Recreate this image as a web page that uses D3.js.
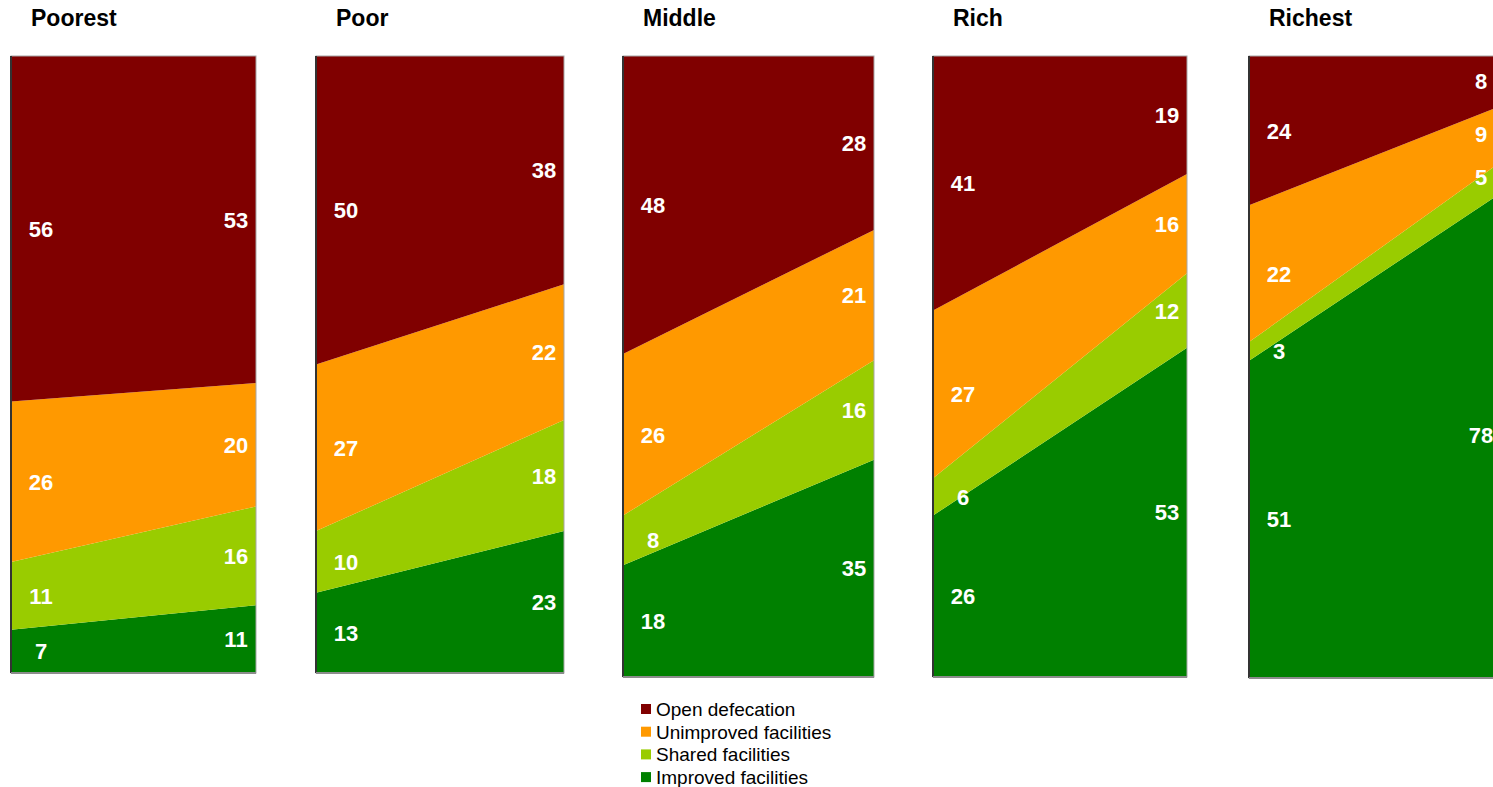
<!DOCTYPE html>
<html>
<head>
<meta charset="utf-8">
<script src="https://cdn.jsdelivr.net/npm/d3@7"></script>
<style>
  body { margin: 0; background: #fff; overflow: hidden; }
  text { font-family: "Liberation Sans", Arial, sans-serif; }
</style>
</head>
<body>
<div id="chart-area"></div>
<script>
// wealth quintiles, two survey points each (start -> end)
var groups = ["Poorest", "Poor", "Middle", "Rich", "Richest"];
var categories = ["Open defecation", "Unimproved facilities", "Shared facilities", "Improved facilities"];
var colors = ["#800000", "#ff9900", "#99cc00", "#008000"];

var openStart = [56, 50, 48, 41, 24];
var openEnd = [53, 38, 28, 19, 8];
var unimprovedStart = [26, 27, 26, 27, 22];
var unimprovedEnd = [20, 22, 21, 16, 9];
var sharedStart = [11, 10, 8, 6, 3];
var sharedEnd = [16, 18, 16, 12, 5];
var improvedStart = [7, 13, 18, 26, 51];
var improvedEnd = [11, 23, 35, 53, 78];

// panel frames
var panelLeft = [11, 316, 623, 933, 1249];
var panelWidth = [245, 248, 251, 254, 252];
var panelBottom = [673, 673, 677, 677, 678];
var panelTop = 56;

var areaWidth = 1493, areaHeight = 787;

var svg = d3.select("#chart-area").append("svg")
    .attr("width", areaWidth)
    .attr("height", areaHeight);

// stacking order: bottom -> top
var stackKeys = ["improved", "shared", "unimproved", "open"];
var keyColor = { open: colors[0], unimproved: colors[1], shared: colors[2], improved: colors[3] };

groups.forEach(function(name, i){
    var rows = [
        { t: 0, open: openStart[i], unimproved: unimprovedStart[i], shared: sharedStart[i], improved: improvedStart[i] },
        { t: 1, open: openEnd[i], unimproved: unimprovedEnd[i], shared: sharedEnd[i], improved: improvedEnd[i] }
    ];
    var series = d3.stack().keys(stackKeys)(rows);

    var left = panelLeft[i], right = left + panelWidth[i];
    var x = d3.scaleLinear().domain([0, 1]).range([left, right]);
    var y = d3.scaleLinear().domain([0, 100]).range([panelBottom[i], panelTop]);

    var g = svg.append("g").attr("class", "panel");

    g.append("clipPath").attr("id", "clip" + i)
      .append("rect")
        .attr("x", left).attr("y", panelTop)
        .attr("width", panelWidth[i]).attr("height", panelBottom[i] - panelTop);

    var area = d3.area()
        .x(function(d){ return x(d.data.t); })
        .y0(function(d){ return y(d[0]); })
        .y1(function(d){ return y(d[1]); });

    g.append("g").attr("clip-path", "url(#clip" + i + ")")
      .selectAll("path")
      .data(series)
      .enter()
      .append("path")
        .attr("d", area)
        .attr("fill", function(s){ return keyColor[s.key]; });

    // frame: thin grey box, dark value axis, grey category axis
    g.append("rect")
        .attr("x", left).attr("y", panelTop)
        .attr("width", panelWidth[i]).attr("height", panelBottom[i] - panelTop)
        .attr("fill", "none").attr("stroke", "#a6a6a6").attr("stroke-width", 1);
    g.append("line")
        .attr("x1", left).attr("x2", left)
        .attr("y1", panelTop).attr("y2", panelBottom[i])
        .attr("stroke", "#333").attr("stroke-width", 2);
    g.append("line")
        .attr("x1", left).attr("x2", right)
        .attr("y1", panelBottom[i]).attr("y2", panelBottom[i])
        .attr("stroke", "#8c8c8c").attr("stroke-width", 2);

    // value labels at both ends of every band
    series.forEach(function(s){
        [0, 1].forEach(function(t){
            var d = s[t];
            g.append("text")
                .attr("x", t === 0 ? left + 30 : right - 20)
                .attr("y", (y(d[0]) + y(Math.min(d[1], 100))) / 2 + 8)
                .attr("text-anchor", "middle")
                .attr("font-size", 22)
                .attr("font-weight", "bold")
                .attr("fill", "#fff")
                .text(d.data[s.key]);
        });
    });

    // panel title
    svg.append("text")
        .attr("x", left + 20)
        .attr("y", 26)
        .attr("font-size", 23)
        .attr("font-weight", "bold")
        .attr("fill", "#000")
        .text(name);
});

// legend
var legend = svg.append("g").selectAll("g")
    .data(categories)
    .enter()
    .append("g")
    .attr("transform", function(d, i){ return "translate(641," + (709 + i * 22.7) + ")"; });
legend.append("rect")
    .attr("x", 0).attr("y", -5)
    .attr("width", 10).attr("height", 10)
    .attr("fill", function(d, i){ return colors[i]; });
legend.append("text")
    .attr("x", 15).attr("y", 7)
    .attr("font-size", 19)
    .attr("fill", "#000")
    .text(function(d){ return d; });
</script>
</body>
</html>
